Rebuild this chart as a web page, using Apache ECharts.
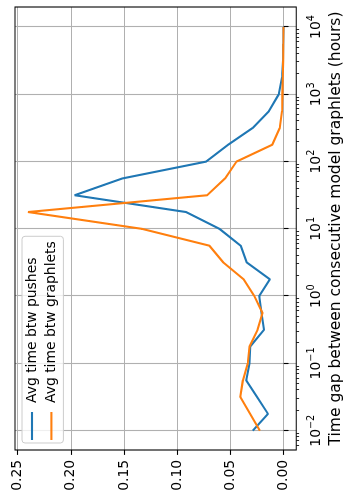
<!DOCTYPE html>
<html>
<head>
<meta charset="utf-8">
<script src="https://cdn.jsdelivr.net/npm/echarts@6/dist/echarts.min.js"></script>
<style>
  html, body { margin: 0; padding: 0; width: 349px; height: 504px; overflow: hidden; background: #fff; }
  /* the plot is laid out landscape and turned a quarter turn counter-clockwise */
  #chart { position: absolute; left: 0; top: 0; width: 504px; height: 349px;
           transform-origin: 0 0; transform: translateY(504px) rotate(-90deg); }
</style>
</head>
<body>
<div id="chart"></div>
<script>
// Time gap bins (hours), quarter-decade steps
const gapHours = [0.01, 0.0178, 0.0316, 0.0562, 0.1, 0.178, 0.316, 0.562,
                  1, 1.78, 3.16, 5.62, 10, 17.8, 31.6, 56.2,
                  100, 178, 316, 562, 1000, 1780, 3160, 5620, 10000];

// Share of gaps falling in each bin
const pushShare = [0.029, 0.0147, 0.025, 0.0352, 0.0321, 0.0315, 0.0184, 0.0208,
                   0.023, 0.0129, 0.0346, 0.0404, 0.0603, 0.0918, 0.1965, 0.1515,
                   0.0728, 0.0521, 0.0291, 0.0138, 0.0046, 0.0016, 0.0006, 0.0003, 0.0002];
const graphletShare = [0.0223, 0.0315, 0.0407, 0.0383, 0.0337, 0.0321, 0.0245, 0.0199,
                       0.0275, 0.0376, 0.0566, 0.0698, 0.1331, 0.2403, 0.0719, 0.0551,
                       0.0443, 0.0107, 0.0037, 0.0016, 0.0012, 0.0008, 0.0005, 0.0003, 0.0002];

const seriesNames = ['Avg time btw pushes', 'Avg time btw graphlets'];
const seriesColors = ['#1f77b4', '#ff7f0e'];

const decadeTicks = [0.01, 0.1, 1, 10, 100, 1000, 10000];
const shareTicks = [0, 0.05, 0.1, 0.15, 0.2, 0.25];
const axisTitle = 'Time gap between consecutive model graphlets (hours)';

// axis extents (with 5% padding around the data)
const gapMin = Math.pow(10, -2.2869);
const gapMax = Math.pow(10, 4.2977);
const shareMin = -0.0119;
const shareMax = 0.2525;

// log minor ticks: 2..9 times each power of ten inside the extent
const minorTicks = [];
for (let e = -3; e <= 4; e++) {
  for (let m = 2; m <= 9; m++) {
    const v = m * Math.pow(10, e);
    if (v > gapMin && v < gapMax) minorTicks.push(v);
  }
}

const FONT = 'DejaVu Sans';
const supText = (n) => (n < 0 ? '\u2212' + (-n) : String(n));

const chart = echarts.init(document.getElementById('chart'), null,
  { width: 504, height: 349, renderer: 'canvas' });

chart.setOption({
  animation: false,
  backgroundColor: '#ffffff',
  grid: {
    left: 54, right: 7, top: 15, bottom: 46,
    show: true, z: 10,
    backgroundColor: 'transparent',
    borderColor: '#000', borderWidth: 1.1
  },
  legend: {
    orient: 'vertical',
    left: 61, top: 22,
    data: seriesNames,
    icon: 'rect',
    itemWidth: 28, itemHeight: 2.1, itemGap: 5.4,
    padding: [3, 5, 5, 3],
    backgroundColor: 'rgba(255,255,255,0.8)',
    borderColor: '#cccccc', borderWidth: 1, borderRadius: 3,
    textStyle: { fontFamily: FONT, fontSize: 13.9, color: '#000', lineHeight: 14, padding: [0, 0, 0, 4] }
  },
  xAxis: [
    {
      type: 'log', logBase: 10, min: gapMin, max: gapMax,
      position: 'bottom',
      axisLine: { show: false },
      axisTick: { show: true, customValues: decadeTicks, length: 4.9, lineStyle: { color: '#000', width: 1.1 } },
      axisLabel: {
        customValues: decadeTicks, margin: 9.8,
        formatter: (v) => '{b|10}{s|' + supText(Math.round(Math.log10(v))) + '}',
        rich: {
          b: { fontFamily: FONT, fontSize: 13.9, color: '#000', verticalAlign: 'bottom', lineHeight: 14 },
          s: { fontFamily: FONT, fontSize: 9.7, color: '#000', verticalAlign: 'bottom', padding: [0, 0, 7, 0] }
        }
      },
      splitLine: { show: true, lineStyle: { color: '#b0b0b0', width: 1.1 } },
      name: axisTitle, nameLocation: 'middle', nameGap: 30,
      nameTextStyle: { fontFamily: FONT, fontSize: 15.5, color: '#000', verticalAlign: 'top' }
    },
    {
      type: 'log', logBase: 10, min: gapMin, max: gapMax,
      position: 'bottom',
      axisLine: { show: false },
      axisTick: { show: true, customValues: minorTicks, length: 2.8, lineStyle: { color: '#000', width: 0.83 } },
      axisLabel: { show: false },
      splitLine: { show: false }
    }
  ],
  yAxis: [
    {
      type: 'value', min: shareMin, max: shareMax,
      position: 'left',
      axisLine: { show: false },
      axisTick: { show: true, customValues: shareTicks, length: 4.9, lineStyle: { color: '#000', width: 1.1 } },
      axisLabel: {
        customValues: shareTicks, margin: 9.8,
        formatter: (v) => v.toFixed(2),
        fontFamily: FONT, fontSize: 13.9, color: '#000'
      },
      splitLine: { show: true, lineStyle: { color: '#b0b0b0', width: 1.1 } }
    }
  ],
  series: [
    {
      name: seriesNames[0], type: 'line', xAxisIndex: 0, yAxisIndex: 0,
      data: gapHours.map((t, i) => [t, pushShare[i]]),
      symbol: 'none', showSymbol: false, silent: true,
      lineStyle: { color: seriesColors[0], width: 2.08 },
      itemStyle: { color: seriesColors[0] }
    },
    {
      name: seriesNames[1], type: 'line', xAxisIndex: 0, yAxisIndex: 0,
      data: gapHours.map((t, i) => [t, graphletShare[i]]),
      symbol: 'none', showSymbol: false, silent: true,
      lineStyle: { color: seriesColors[1], width: 2.08 },
      itemStyle: { color: seriesColors[1] }
    }
  ]
});
</script>
</body>
</html>
